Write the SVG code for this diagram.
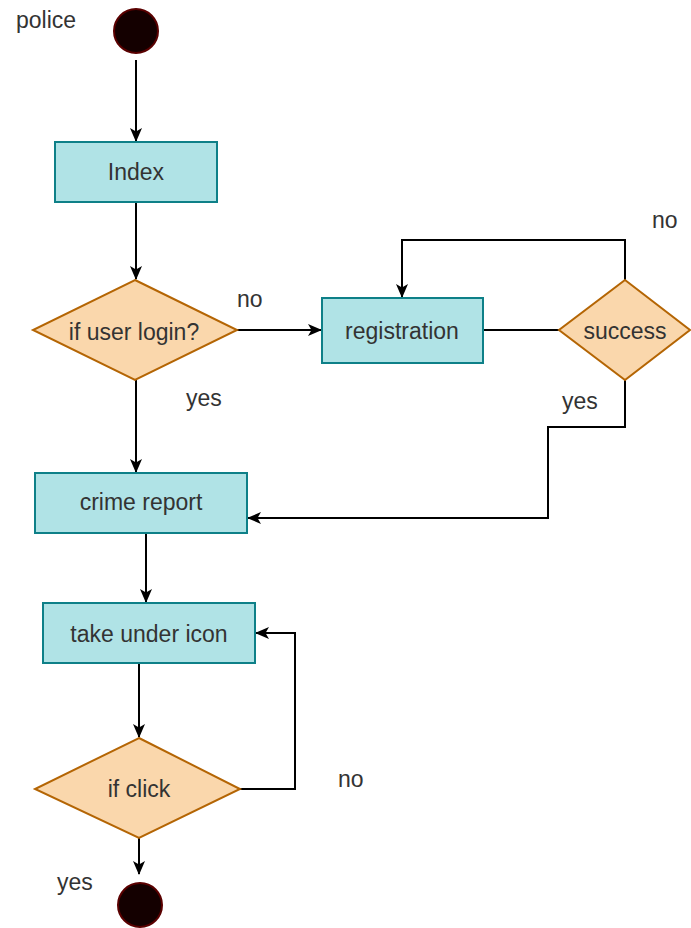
<svg xmlns="http://www.w3.org/2000/svg" width="691" height="928" viewBox="0 0 691 928">
<style>
.box{fill:#b0e3e6;stroke:#0e8088;stroke-width:2}
.dec{fill:#fad7ac;stroke:#b46504;stroke-width:2}
.dot{fill:#140000;stroke:#5a0000;stroke-width:2}
.lbl{font-family:"Liberation Sans",Arial,sans-serif;font-size:23px;fill:#333333}
.c{text-anchor:middle}
.edge{fill:none;stroke:#000000;stroke-width:2}
</style>
<defs>
<marker id="arr" viewBox="0 0 14 12" refX="13" refY="6" markerWidth="14" markerHeight="12" markerUnits="userSpaceOnUse" orient="auto">
<path d="M0,0 L14,6 L0,12 L3.5,6 Z" fill="#000000"/>
</marker>
</defs>
<rect width="691" height="928" fill="#ffffff"/>
<text class="lbl" x="16" y="28">police</text>
<g id="connectors">
<path class="edge" d="M136,60 L136,141" marker-end="url(#arr)"/>
<path class="edge" d="M136,202 L136,279" marker-end="url(#arr)"/>
<path class="edge" d="M237,330 L321,330" marker-end="url(#arr)"/>
<path class="edge" d="M483,330 L559,330"/>
<path class="edge" d="M625,280 L625,240 L402,240 L402,297" marker-end="url(#arr)"/>
<path class="edge" d="M625,380 L625,427 L548,427 L548,518 L248,518" marker-end="url(#arr)"/>
<path class="edge" d="M136,380 L136,472" marker-end="url(#arr)"/>
<path class="edge" d="M146,533 L146,602" marker-end="url(#arr)"/>
<path class="edge" d="M139,663 L139,737" marker-end="url(#arr)"/>
<path class="edge" d="M240,789 L295,789 L295,633 L256,633" marker-end="url(#arr)"/>
<path class="edge" d="M139,838 L139,874" marker-end="url(#arr)"/>
<text class="lbl" x="237" y="307">no</text>
<text class="lbl" x="186" y="406">yes</text>
<text class="lbl" x="652" y="228">no</text>
<text class="lbl" x="562" y="409">yes</text>
<text class="lbl" x="338" y="787">no</text>
<text class="lbl" x="57" y="890">yes</text>
</g>
<g id="start"><circle class="dot" cx="136" cy="31" r="22"/></g>
<g id="index"><rect class="box" x="55" y="142" width="162" height="60"/><text class="lbl c" x="136" y="180">Index</text></g>
<g id="login"><polygon class="dec" points="135,280 237,330 135,380 33,330"/><text class="lbl c" x="134" y="340">if user login?</text></g>
<g id="registration"><rect class="box" x="322" y="298" width="161" height="65"/><text class="lbl c" x="402" y="339">registration</text></g>
<g id="success"><polygon class="dec" points="625,280 690,330 625,380 559,330"/><text class="lbl c" x="625" y="339">success</text></g>
<g id="crime"><rect class="box" x="35" y="473" width="212" height="60"/><text class="lbl c" x="141" y="510">crime report</text></g>
<g id="take"><rect class="box" x="43" y="603" width="212" height="60"/><text class="lbl c" x="149" y="642">take under icon</text></g>
<g id="click"><polygon class="dec" points="139,738 240,789 139,838 35,789"/><text class="lbl c" x="139" y="797">if click</text></g>
<g id="end"><circle class="dot" cx="140" cy="905" r="22"/></g>
</svg>
